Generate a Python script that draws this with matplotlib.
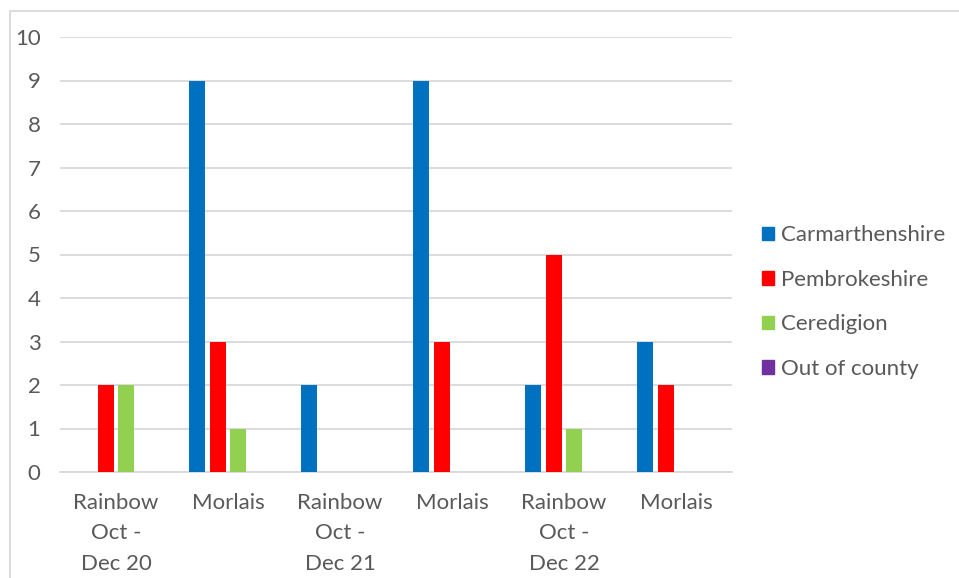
import matplotlib
matplotlib.use('Agg')
import matplotlib.pyplot as plt
from matplotlib.patches import Rectangle, Patch
import numpy as np

# referral counts per service period
categories = ['Rainbow\nOct -\nDec 20', 'Morlais', 'Rainbow\nOct -\nDec 21',
              'Morlais', 'Rainbow\nOct -\nDec 22', 'Morlais']
series_names = ['Carmarthenshire', 'Pembrokeshire', 'Ceredigion', 'Out of county']
carmarthenshire = [0, 9, 2, 9, 2, 3]
pembrokeshire = [2, 3, 0, 3, 5, 2]
ceredigion = [2, 1, 0, 0, 1, 0]
out_of_county = [0, 0, 0, 0, 0, 0]
colors = ['#0070C0', '#FF0000', '#92D050', '#7030A0']

plt.rcParams['font.family'] = ['Lato', 'DejaVu Sans']
text_color = '#595959'
grid_color = '#D9D9D9'
fs = 16

fig = plt.figure(figsize=(9.59, 5.78), dpi=100)
ax = fig.add_axes([60/959, 1 - 472/578, 672/959, 435/578])

x = np.arange(len(categories))
step = 0.183
width = 0.143
data = [carmarthenshire, pembrokeshire, ceredigion, out_of_county]
for i, (vals, c) in enumerate(zip(data, colors)):
    ax.bar(x + (i - 1.5) * step, vals, width=width, color=c, zorder=3)

ax.set_xlim(-0.5, len(categories) - 0.5)
ax.set_ylim(0, 10)
ax.set_yticks(range(0, 11))
ax.yaxis.grid(True, color=grid_color, linewidth=1.3, zorder=0)
for s in ['top', 'right', 'left']:
    ax.spines[s].set_visible(False)
ax.spines['bottom'].set_color(grid_color)
ax.spines['bottom'].set_linewidth(1.3)
ax.tick_params(axis='both', length=0, colors=text_color, labelsize=fs)
ax.tick_params(axis='y', pad=14)
ax.tick_params(axis='x', pad=15)
ax.set_xticks(x)
ax.set_xticklabels(categories, linespacing=1.66)

handles = [Patch(color=c) for c in colors]
fig.legend(handles, series_names, loc='center left',
           bbox_to_anchor=(742/959, 1 - 302/578), frameon=False,
           fontsize=fs, labelcolor=text_color, handlelength=0.55,
           handleheight=0.55, handletextpad=0.3, labelspacing=1.1)

# light outer frame
fig.patches.append(Rectangle((10/959, -0.05), 1.0, 1 - 11/578 + 0.05,
                             transform=fig.transFigure, fill=False,
                             edgecolor=grid_color, linewidth=1.3))

fig.savefig('out.png', dpi=100)
